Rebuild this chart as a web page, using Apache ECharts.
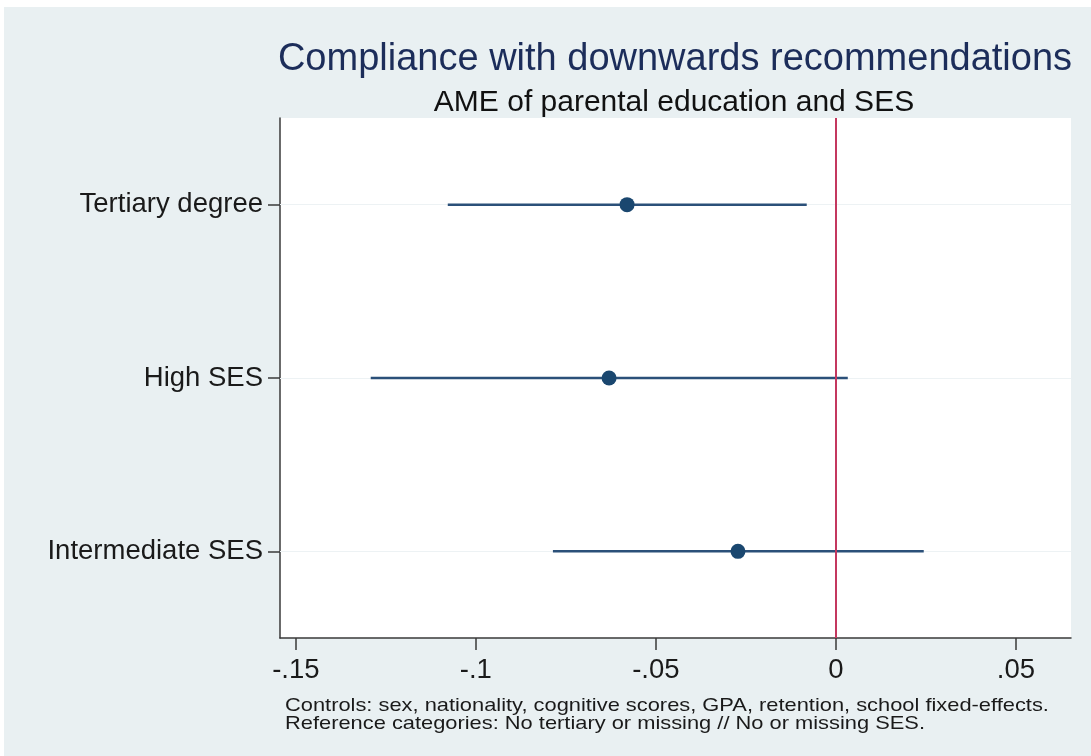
<!DOCTYPE html>
<html>
<head>
<meta charset="utf-8">
<script src="https://cdn.jsdelivr.net/npm/echarts@6/dist/echarts.min.js"></script>
<style>
html,body{margin:0;padding:0;background:#ffffff;}
#chart{width:1091px;height:756px;}
</style>
</head>
<body>
<div id="chart"></div>
<script>
// ---- data ----
var categories = ['Tertiary degree', 'High SES', 'Intermediate SES'];
var estimates = [-0.058, -0.063, -0.0272];
var ciLow = [-0.1078, -0.1292, -0.0786];
var ciHigh = [-0.0081, 0.0033, 0.0244];
var xTickValues = [-0.15, -0.1, -0.05, 0, 0.05];
var xTickLabels = ['-.15', '-.1', '-.05', '0', '.05'];
var titleText = 'Compliance with downwards recommendations';
var subtitleText = 'AME of parental education and SES';
var noteLines = [
  'Controls: sex, nationality, cognitive scores, GPA, retention, school fixed-effects.',
  'Reference categories: No tertiary or missing // No or missing SES.'
];

var FONT = '"Liberation Sans", Arial, Helvetica, sans-serif';
var chart = echarts.init(document.getElementById('chart'), null, {renderer: 'canvas'});

var ciData = categories.map(function (c, i) { return [ciLow[i], ciHigh[i], i]; });
var pointData = categories.map(function (c, i) { return [estimates[i], i]; });

var option = {
  backgroundColor: '#e9f0f2',
  animation: false,
  title: [
    {
      text: titleText,
      left: 670, top: 36, textAlign: 'center',
      textStyle: {fontFamily: FONT, fontSize: 38, fontWeight: 'normal', color: '#1c2d5a'}
    },
    {
      text: subtitleText,
      left: 669, top: 83, textAlign: 'center',
      textStyle: {fontFamily: FONT, fontSize: 30, fontWeight: 'normal', color: '#111111'}
    }
  ],
  grid: {
    left: 280, right: 20, top: 118, bottom: 118,
    show: true, backgroundColor: '#ffffff', borderWidth: 0
  },
  xAxis: {
    type: 'value',
    min: -0.1544, max: 0.0653,
    axisLine: {show: true, onZero: false, lineStyle: {color: '#3a3a3a', width: 1.5}},
    axisTick: {show: true, length: 12, lineStyle: {color: '#3a3a3a', width: 1.5}, customValues: xTickValues},
    axisLabel: {
      customValues: xTickValues,
      margin: 18,
      fontFamily: FONT, fontSize: 27.5, color: '#1a1a1a',
      formatter: function (v) {
        var idx = -1;
        for (var i = 0; i < xTickValues.length; i++) { if (Math.abs(xTickValues[i] - v) < 1e-9) idx = i; }
        return idx >= 0 ? xTickLabels[idx] : '';
      }
    },
    splitLine: {show: false}
  },
  yAxis: {
    type: 'category',
    data: categories,
    inverse: true,
    boundaryGap: true,
    axisLine: {show: true, onZero: false, lineStyle: {color: '#3a3a3a', width: 1.5}},
    axisTick: {show: true, alignWithLabel: true, length: 12, lineStyle: {color: '#3a3a3a', width: 1.5}},
    axisLabel: {margin: 17, fontFamily: FONT, fontSize: 27.5, color: '#1a1a1a'},
    splitLine: {show: false}
  },
  graphic: [
    {type: 'rect', left: 0, top: 0, shape: {width: 1091, height: 7}, style: {fill: '#ffffff'}, silent: true},
    {type: 'rect', left: 0, top: 0, shape: {width: 4, height: 756}, style: {fill: '#ffffff'}, silent: true},
    {
      type: 'text', x: 285, y: 696, scaleX: 1.15,
      style: {
        text: noteLines[0],
        font: '19px ' + FONT,
        fill: '#1a1a1a'
      }
    },
    {
      type: 'text', x: 285, y: 714, scaleX: 1.15,
      style: {
        text: noteLines[1],
        font: '19px ' + FONT,
        fill: '#1a1a1a'
      }
    }
  ],
  series: [
    {
      type: 'scatter',
      name: 'grid',
      data: [],
      z: 1,
      markLine: {
        silent: true, symbol: 'none', z: 1,
        label: {show: false},
        animation: false,
        lineStyle: {color: '#edf2f4', width: 1.2, type: 'solid'},
        data: categories.map(function (c, i) { return {yAxis: i}; })
      }
    },
    {
      type: 'custom',
      name: 'ci',
      data: ciData,
      encode: {x: [0, 1], y: 2},
      z: 3,
      itemStyle: {color: '#2b5079'},
      renderItem: function (params, api) {
        var p1 = api.coord([api.value(0), api.value(2)]);
        var p2 = api.coord([api.value(1), api.value(2)]);
        return {
          type: 'line',
          shape: {x1: p1[0], y1: p1[1], x2: p2[0], y2: p2[1]},
          style: {stroke: '#2b5079', fill: 'none', lineWidth: 2.5}
        };
      }
    },
    {
      type: 'scatter',
      name: 'ame',
      data: pointData,
      symbol: 'circle',
      symbolSize: 15,
      z: 5,
      itemStyle: {color: '#1a476f', opacity: 1},
      markLine: {
        silent: true, symbol: 'none',
        label: {show: false},
        animation: false,
        lineStyle: {color: '#c4385f', width: 2, type: 'solid'},
        data: [{xAxis: 0}]
      }
    }
  ]
};
chart.setOption(option);
</script>
</body>
</html>
